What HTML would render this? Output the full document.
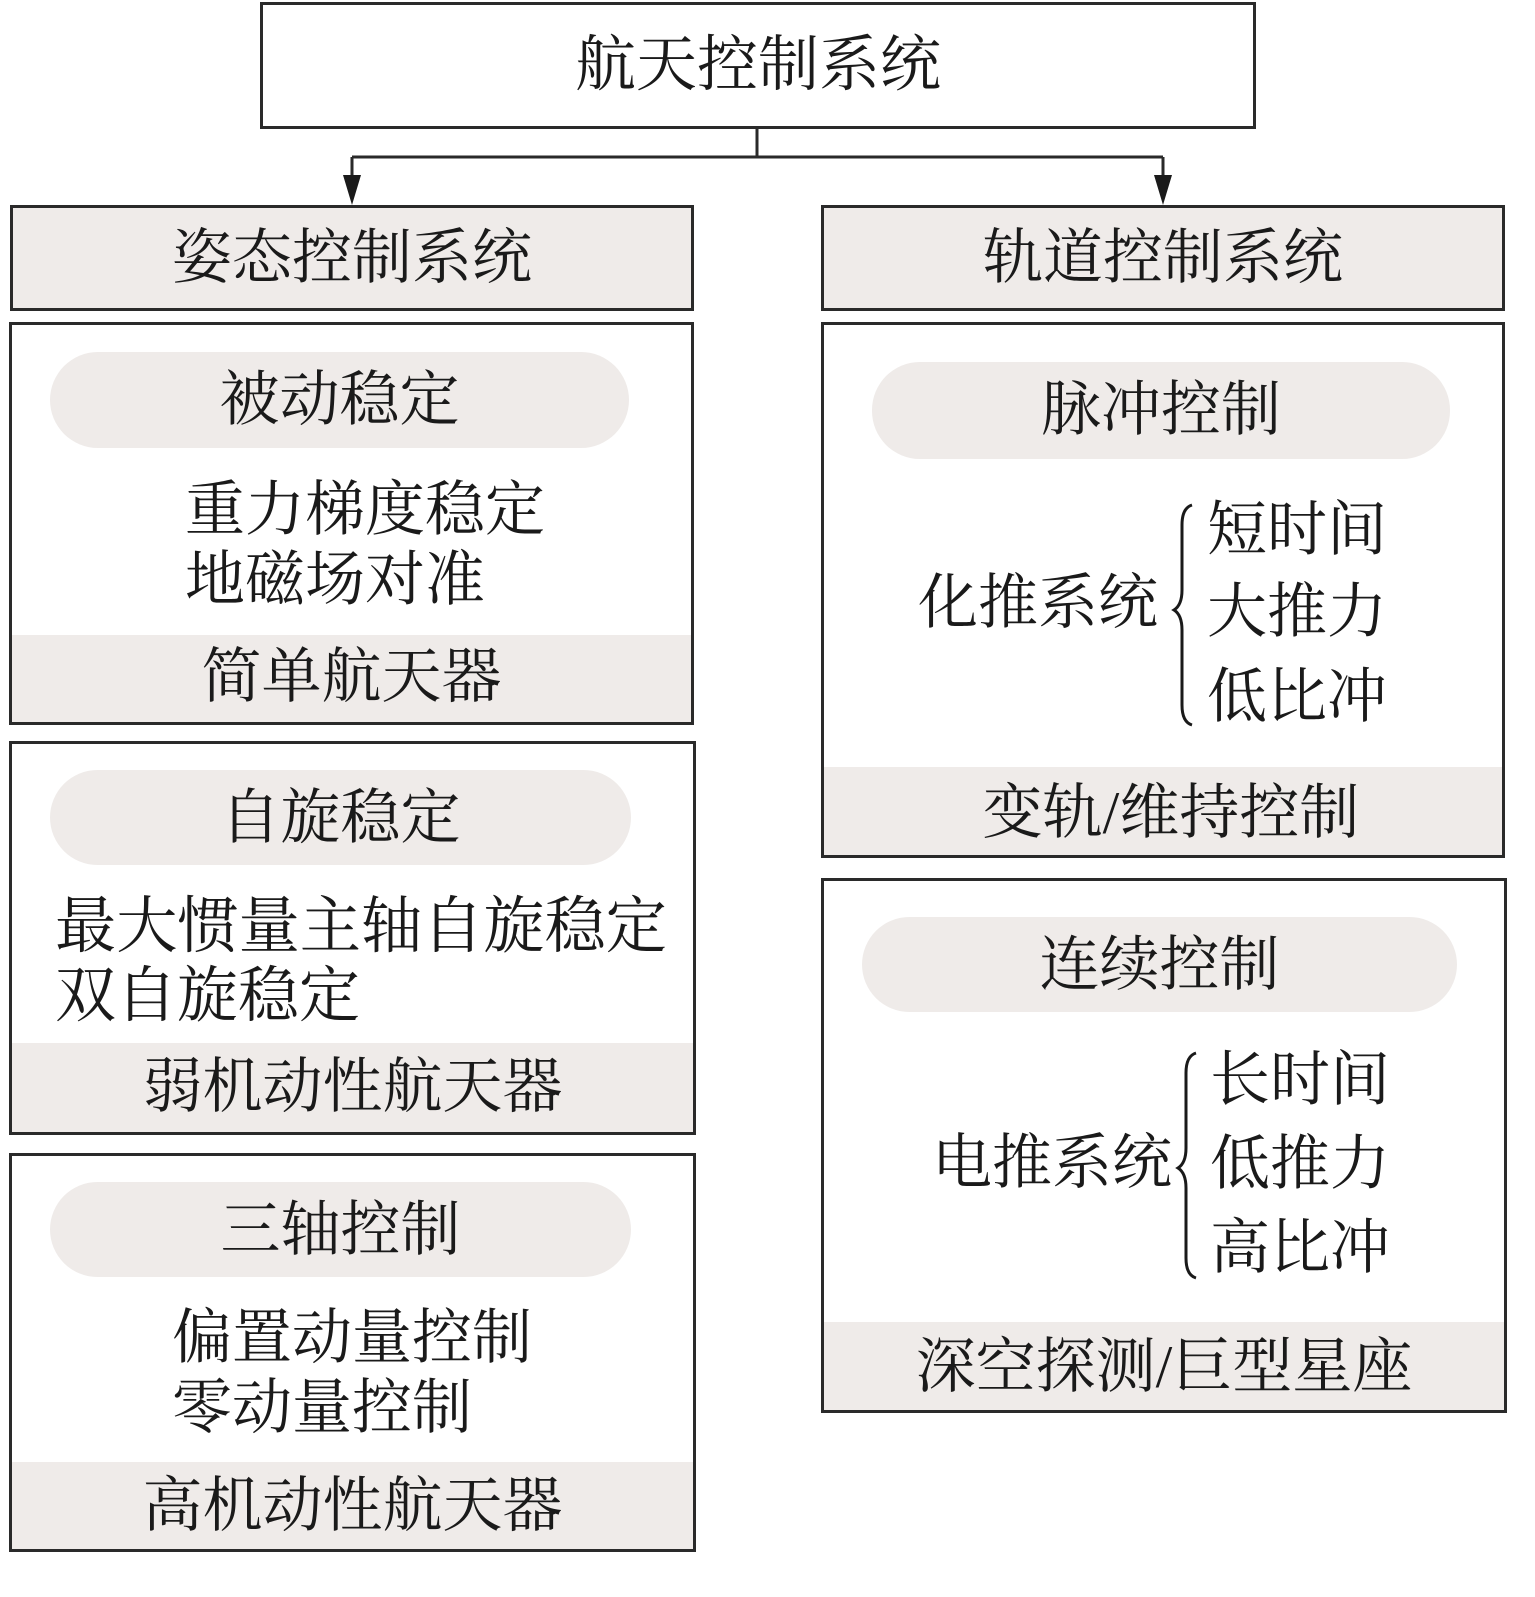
<!DOCTYPE html>
<html><head><meta charset="utf-8"><style>
body{margin:0;width:1535px;height:1597px;background:#fff;position:relative;overflow:hidden;font-family:"Liberation Serif","Noto Serif CJK SC",serif;color:#1a1a1a}
.a{position:absolute;box-sizing:border-box}
.box{border:3px solid #2a2a2a}
.g{background:#efebe9}
.t{position:absolute;white-space:nowrap;font-size:60px;line-height:1}
.c{text-align:center}
.pill{position:absolute;background:#efebe9;border-radius:48px}
</style></head><body>
<svg class="a" style="left:0;top:0" width="1535" height="1597">
<path d="M757 128V157M352 157H1163M352 157V185M1163 157V185" stroke="#2a2a2a" stroke-width="3" fill="none"/>
<path d="M343 175L352 205L361 175Z M1154 175L1163 205L1172 175Z" fill="#1a1a1a"/>
<path d="M1192 505 Q1182 508 1182 525 V590 Q1182 605 1174 610 Q1182 615 1182 630 V705 Q1182 722 1192 725" stroke="#1a1a1a" stroke-width="3" fill="none"/>
<path d="M1196 1053 Q1186 1056 1186 1073 V1148 Q1186 1163 1178 1168 Q1186 1173 1186 1188 V1258 Q1186 1275 1196 1278" stroke="#1a1a1a" stroke-width="3" fill="none"/>
</svg>
<div class="a box" style="left:260px;top:2px;width:996px;height:127px"></div>
<div class="t c" style="left:260px;width:996px;top:35px;font-size:61px">航天控制系统</div>

<div class="a box g" style="left:10px;top:205px;width:684px;height:106px"></div>
<div class="t c" style="left:10px;width:684px;top:228px">姿态控制系统</div>
<div class="a box g" style="left:821px;top:205px;width:684px;height:106px"></div>
<div class="t c" style="left:821px;width:684px;top:228px">轨道控制系统</div>

<!-- box1 -->
<div class="a box" style="left:9px;top:322px;width:685px;height:403px;overflow:hidden"><div class="a g" style="left:0;top:310px;width:100%;height:90px"></div></div>
<div class="pill" style="left:50px;top:352px;width:579px;height:96px"></div>
<div class="t c" style="left:50px;width:579px;top:370px">被动稳定</div>
<div class="t" style="left:185px;top:480px">重力梯度稳定</div>
<div class="t" style="left:185px;top:550px">地磁场对准</div>
<div class="t c" style="left:9px;width:685px;top:647px">简单航天器</div>

<!-- box2 -->
<div class="a box" style="left:9px;top:741px;width:687px;height:394px;overflow:hidden"><div class="a g" style="left:0;top:299px;width:100%;height:90px"></div></div>
<div class="pill" style="left:50px;top:770px;width:581px;height:95px"></div>
<div class="t c" style="left:50px;width:581px;top:788px">自旋稳定</div>
<svg class="a" style="left:0;top:880px" width="700" height="80"><text x="55" y="67" font-size="62" textLength="612" lengthAdjust="spacingAndGlyphs" font-family="Liberation Serif, Noto Serif CJK SC, serif" fill="#1a1a1a">最大惯量主轴自旋稳定</text></svg>
<div class="t" style="left:55px;top:966px;font-size:61px">双自旋稳定</div>
<div class="t c" style="left:9px;width:687px;top:1057px">弱机动性航天器</div>

<!-- box3 -->
<div class="a box" style="left:9px;top:1153px;width:687px;height:399px;overflow:hidden"><div class="a g" style="left:0;top:306px;width:100%;height:90px"></div></div>
<div class="pill" style="left:50px;top:1182px;width:581px;height:95px"></div>
<div class="t c" style="left:50px;width:581px;top:1200px">三轴控制</div>
<div class="t" style="left:172px;top:1308px">偏置动量控制</div>
<div class="t" style="left:172px;top:1378px">零动量控制</div>
<div class="t c" style="left:9px;width:687px;top:1476px">高机动性航天器</div>

<!-- box4 -->
<div class="a box" style="left:821px;top:322px;width:684px;height:536px;overflow:hidden"><div class="a g" style="left:0;top:442px;width:100%;height:90px"></div></div>
<div class="pill" style="left:872px;top:362px;width:578px;height:97px"></div>
<div class="t c" style="left:872px;width:578px;top:380px">脉冲控制</div>
<div class="t" style="left:918px;top:573px">化推系统</div>
<div class="t" style="left:1207px;top:500px">短时间</div>
<div class="t" style="left:1207px;top:582px">大推力</div>
<div class="t" style="left:1207px;top:667px">低比冲</div>
<div class="t c" style="left:821px;width:700px;top:783px">变轨/维持控制</div>

<!-- box5 -->
<div class="a box" style="left:821px;top:878px;width:686px;height:535px;overflow:hidden"><div class="a g" style="left:0;top:441px;width:100%;height:90px"></div></div>
<div class="pill" style="left:862px;top:917px;width:595px;height:95px"></div>
<div class="t c" style="left:862px;width:595px;top:935px">连续控制</div>
<div class="t" style="left:932px;top:1133px">电推系统</div>
<div class="t" style="left:1210px;top:1050px">长时间</div>
<div class="t" style="left:1210px;top:1134px">低推力</div>
<div class="t" style="left:1210px;top:1218px">高比冲</div>
<div class="t c" style="left:821px;width:686px;top:1337px">深空探测/巨型星座</div>
</body></html>
